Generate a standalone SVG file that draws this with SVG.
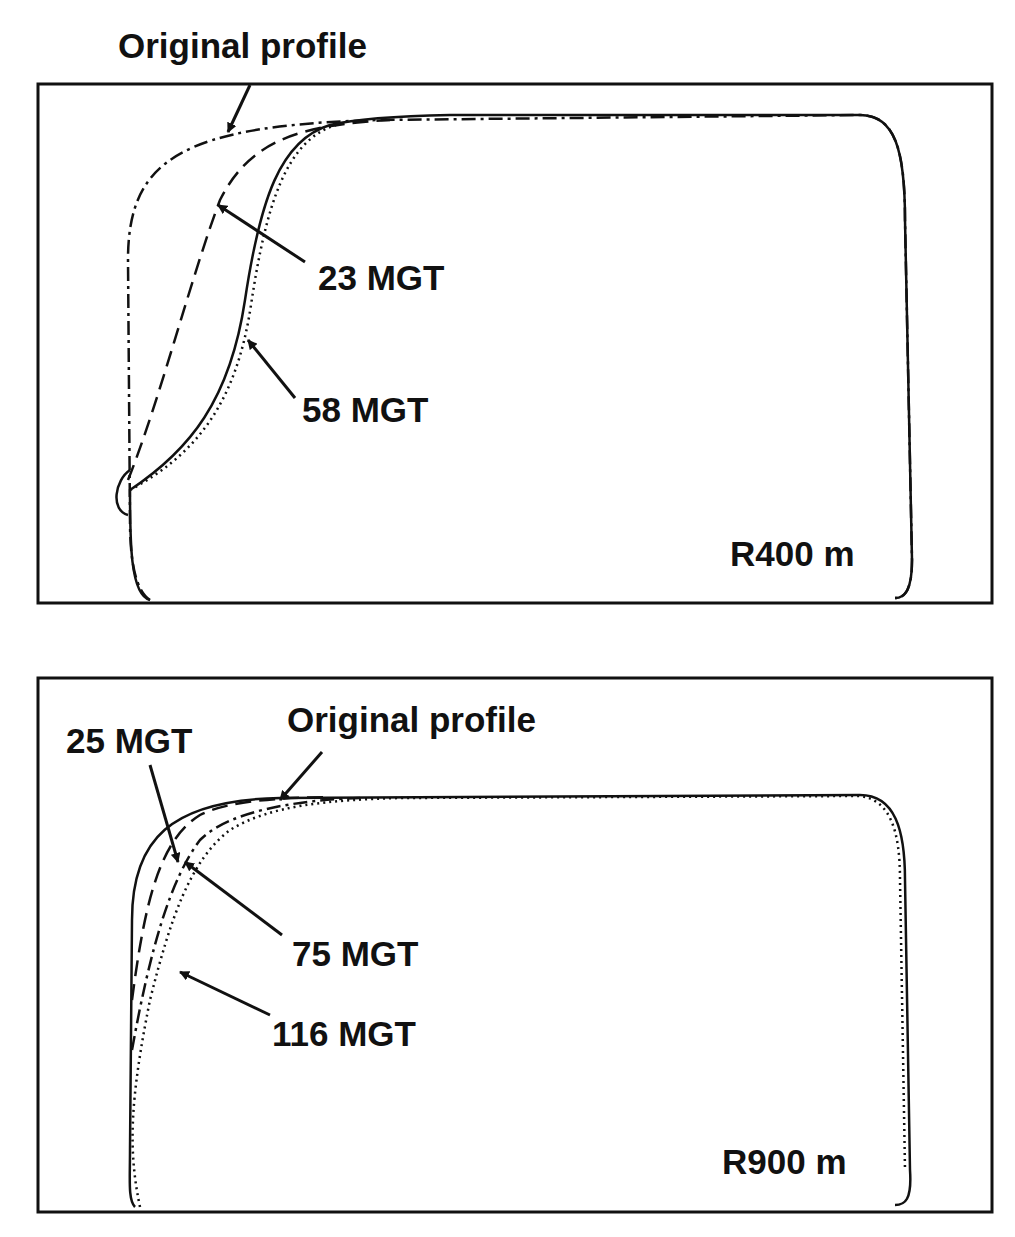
<svg xmlns="http://www.w3.org/2000/svg" width="1015" height="1237" viewBox="0 0 1015 1237">
<defs>
<marker id="ah" markerWidth="10" markerHeight="10" refX="9" refY="5" orient="auto" markerUnits="userSpaceOnUse" viewBox="0 0 10 10"><path d="M0,0 L10,5 L0,10 Z" fill="#111"/></marker>
</defs>
<style>
.box{fill:none;stroke:#111;stroke-width:3}
.c{fill:none;stroke:#111;stroke-width:2.5}
.dd{stroke-dasharray:14 5 3 5}
.da{stroke-dasharray:16 8}
.dt{stroke-dasharray:2 4}
.ar{stroke:#111;stroke-width:3;marker-end:url(#ah)}
text{font-family:"Liberation Sans",Arial,sans-serif;font-size:35px;font-weight:bold;fill:#111}
</style>
<rect width="1015" height="1237" fill="#fff"/>
<g id="top">
<rect class="box" x="38" y="84" width="954" height="519"/>
<path class="c dd" d="M150,600 C135,590 130,560 130,520 L128,260 C128,160 180,125 380,120 L860,115 C895,115 905,150 905,220 L912,560 C912,590 905,598 895,598"/>
<path class="c da" d="M128,480 C160,400 190,280 220,200 C250,140 300,125 390,120"/>
<path class="c" d="M150,600 C130,595 130,540 130,490 C190,450 230,400 245,300 C260,200 280,140 330,125 C360,118 400,116 450,115 L860,115 C895,115 905,150 905,220 L912,560 C912,590 905,598 895,598"/>
<path class="c dt" d="M130,490 C195,455 236,405 251,305 C266,205 286,140 336,125"/>
<path class="c" d="M130,470 C115,480 110,510 128,515"/>
</g>
<g id="bottom">
<rect class="box" x="38" y="678" width="954" height="534"/>
<path class="c" d="M135,1207 C128,1200 130,1180 130,1150 L132,920 C132,840 170,800 280,798 L860,795 C895,795 905,830 905,880 L910,1170 C912,1200 905,1205 895,1205"/>
<path class="c da" d="M132,1000 C145,900 160,840 200,815 C230,800 280,798 330,797"/>
<path class="c dd" d="M132,1050 C150,950 170,880 200,840 C230,810 300,800 360,798"/>
<path class="c dt" d="M140,1207 C128,1150 130,1100 150,1000 C170,920 190,860 230,830 C270,805 330,800 400,798 L860,796 C890,800 900,830 900,880 L905,1170"/>
</g>
<g id="connectors">
<line class="ar" x1="250" y1="85" x2="228" y2="132"/>
<line class="ar" x1="305" y1="262" x2="218" y2="205"/>
<line class="ar" x1="295" y1="398" x2="248" y2="340"/>
<line class="ar" x1="322" y1="752" x2="280" y2="800"/>
<line class="ar" x1="150" y1="765" x2="178" y2="862"/>
<line class="ar" x1="282" y1="935" x2="185" y2="862"/>
<line class="ar" x1="270" y1="1015" x2="180" y2="972"/>
</g>
<g id="labels">
<text x="118" y="58">Original profile</text>
<text x="318" y="290">23 MGT</text>
<text x="302" y="422">58 MGT</text>
<text x="730" y="566">R400 m</text>
<text x="287" y="732">Original profile</text>
<text x="66" y="753">25 MGT</text>
<text x="292" y="966">75 MGT</text>
<text x="272" y="1046">116 MGT</text>
<text x="722" y="1174">R900 m</text>
</g>
</svg>
